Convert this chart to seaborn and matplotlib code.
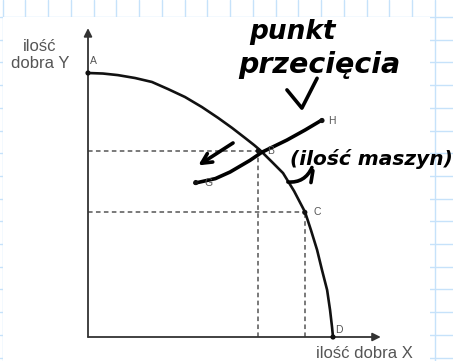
import numpy as np
import pandas as pd
import seaborn as sns
import matplotlib.pyplot as plt
from matplotlib.patches import Rectangle

# production possibility frontier
frontier_x = [0, 0.61, 1.22, 1.92, 2.61, 3.27, 3.96, 4.65, 5.31, 5.88, 6.41, 6.78, 7.02,
              7.51, 7.96, 8.41, 8.86, 9.10, 9.35, 9.55, 9.76, 9.88, 9.96, 10]
frontier_y = [10, 9.98, 9.92, 9.81, 9.66, 9.39, 9.09, 8.71, 8.30, 7.92, 7.54, 7.27, 7.08,
              6.63, 6.21, 5.53, 4.73, 4.05, 3.30, 2.54, 1.78, 1.02, 0.38, 0]

# labelled points
point_names = ["A", "B", "C", "D", "G", "H"]
point_x = [0, 6.95, 8.85, 10, 4.4, 9.55]
point_y = [10, 7.05, 4.72, 0, 5.85, 8.2]
label_offsets = [(1.5, 5), (6.5, 0), (6, 0), (1.5, 1.5), (6.5, 0), (4.5, 0)]

# handwritten strokes
pen_line_x = [4.37, 5.2, 5.8, 6.61, 7.1, 8.12, 8.86, 9.55]
pen_line_y = [5.83, 6.0, 6.25, 6.69, 7.0, 7.46, 7.84, 8.22]
pen_arrow_down_x = [8.12, 8.73, 9.35]
pen_arrow_down_y = [9.36, 8.67, 9.8]
pen_arrow_left = [(5.92, 7.35), (4.5, 6.5)]
pen_hook = [(8.16, 5.87), (9.14, 6.42)]
pen_tick_x = [9.18, 9.1]
pen_tick_y = [6.3, 5.85]

df_frontier = pd.DataFrame({"x": frontier_x, "y": frontier_y})
df_points = pd.DataFrame({"name": point_names, "x": point_x, "y": point_y})

sns.set_theme(style="white")
plt.rcParams["font.family"] = ["Liberation Sans", "DejaVu Sans"]

fig = plt.figure(figsize=(4.53, 3.61), dpi=100)

# squared paper background
bg = fig.add_axes([0, 0, 1, 1])
bg.set_xlim(0, 453)
bg.set_ylim(361, 0)
bg.set_xticks(np.arange(2.5, 453, 22.75))
bg.set_yticks(np.arange(17, 361, 22.7))
bg.grid(True, color="#c6e2fa", lw=1.0)
bg.tick_params(length=0, labelbottom=False, labelleft=False)
for s in bg.spines.values():
    s.set_visible(False)
bg.add_patch(Rectangle((3, 17), 427, 350, facecolor="white", edgecolor="none", zorder=2))

ax = fig.add_axes([0, 0, 1, 1])
ax.patch.set_alpha(0)
ax.set_xlim(-88 / 24.5, 365 / 24.5)
ax.set_ylim(-24 / 26.4, 337 / 26.4)
ax.axis("off")

# axes with arrows
ax.annotate("", xy=(0, 11.7), xytext=(0, 0),
            arrowprops=dict(arrowstyle="-|>", lw=1.3, color="#333333", mutation_scale=12, shrinkA=0, shrinkB=0))
ax.annotate("", xy=(11.95, 0), xytext=(0, 0),
            arrowprops=dict(arrowstyle="-|>", lw=1.3, color="#333333", mutation_scale=12, shrinkA=0, shrinkB=0))

# dashed guides from B and C
for px, py in [(point_x[1], point_y[1]), (point_x[2], point_y[2])]:
    ax.plot([0, px], [py, py], ls=(0, (3, 2.2)), color="#555555", lw=1.1)
    ax.plot([px, px], [0, py], ls=(0, (3, 2.2)), color="#555555", lw=1.1)

sns.lineplot(data=df_frontier, x="x", y="y", sort=False, color="#111111", lw=1.9, ax=ax)
sns.scatterplot(data=df_points, x="x", y="y", color="#111111", s=14, edgecolor="none", ax=ax, zorder=5)

for name, px, py, off in zip(point_names, point_x, point_y, label_offsets):
    ax.annotate(name, (px, py), xytext=off, textcoords="offset points",
                ha="left", va="bottom" if name in "AD" else "center",
                fontsize=7.5, color="#555555")

ax.text(-1.96, 10.68, "ilość\ndobra Y", ha="center", va="center", fontsize=12,
        color="#555555", linespacing=1.15)
ax.text(11.3, -0.62, "ilość dobra X", ha="center", va="center", fontsize=12, color="#555555")

# handwriting
pen = dict(color="black", lw=2.6, solid_capstyle="round", solid_joinstyle="round")
ax.plot(pen_line_x, pen_line_y, **pen)
ax.plot(pen_arrow_down_x, pen_arrow_down_y, **pen)
ax.plot(pen_tick_x, pen_tick_y, **pen)
ax.annotate("", xy=pen_arrow_left[1], xytext=pen_arrow_left[0],
            arrowprops=dict(arrowstyle="->", lw=2.6, color="black", mutation_scale=18, shrinkA=0, shrinkB=0))
ax.annotate("", xy=pen_hook[1], xytext=pen_hook[0],
            arrowprops=dict(arrowstyle="-", lw=2.6, color="black", shrinkA=0, shrinkB=0,
                            connectionstyle="arc3,rad=0.35"))

hand = dict(family="DejaVu Sans", fontweight="bold", fontstyle="italic", color="black")
ax.text(8.33, 11.55, "punkt", ha="center", va="center", fontsize=19, **hand)
ax.text(9.45, 10.3, "przecięcia", ha="center", va="center", fontsize=20.5, **hand)
ax.text(11.55, 6.75, "(ilość maszyn)", ha="center", va="center", fontsize=14.5, **hand)

fig.savefig("out.png", dpi=100)
